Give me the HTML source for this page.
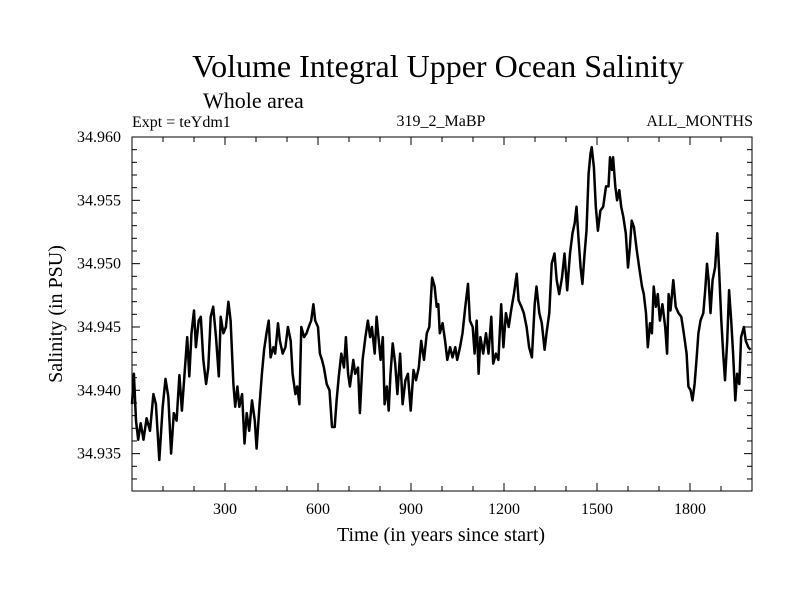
<!DOCTYPE html>
<html><head><meta charset="utf-8"><style>
html,body{margin:0;padding:0;background:#fff;}
svg{display:block;font-family:"Liberation Serif",serif;}
</style></head><body>
<svg id="chart" width="800" height="600" viewBox="0 0 800 600">
<text x="438" y="77" font-size="32" text-anchor="middle">Volume Integral Upper Ocean Salinity</text>
<text x="203" y="108" font-size="22">Whole area</text>
<text x="132" y="127" font-size="16">Expt = teYdm1</text>
<text x="441" y="126" font-size="16" text-anchor="middle">319_2_MaBP</text>
<text x="753" y="126" font-size="16" text-anchor="end">ALL_MONTHS</text>
<text x="441" y="541" font-size="20" text-anchor="middle">Time (in years since start)</text>
<text transform="translate(62,314) rotate(-90)" font-size="20" text-anchor="middle">Salinity (in PSU)</text>
<g id="axes"></g>
<path id="line" fill="none" stroke="#000" stroke-width="2.5" stroke-linejoin="round"></path>
<rect x="132" y="137" width="620" height="354" fill="none" stroke="#000" stroke-width="1"></rect>
</svg>
<script>
const years = [0,6,13,20,28,37,47,58,69,77,88,99,108,117,126,135,144,153,161,171,178,185,192,200,206,215,222,230,239,246,254,262,271,280,286,295,303,311,318,327,333,340,346,355,363,370,378,387,396,402,411,419,426,434,441,447,456,462,471,477,486,495,503,512,518,527,533,540,546,555,563,570,578,585,591,600,606,613,619,628,637,645,654,660,667,675,684,690,697,703,714,720,729,735,744,753,761,768,774,783,789,796,802,809,815,822,828,834,841,849,856,865,873,882,890,899,908,916,925,933,942,951,959,968,976,983,988,
993,1002,1010,1017,1026,1034,1043,1049,1058,1066,1075,1084,1090,1099,1105,1112,1118,1124,1133,1142,1150,1159,1165,1174,1182,1191,1198,1206,1215,1223,1232,1241,1247,1256,1264,1273,1281,1290,1299,1305,1314,1322,1331,1337,1346,1354,1363,1370,1378,1387,1395,1404,1413,1421,1428,1434,1440,1447,1453,1460,1466,1473,1479,1483,1490,1496,1503,1511,1520,1529,1537,1542,1548,1552,1559,1565,1572,1578,1585,1593,1600,1606,1612,1619,1628,1636,1645,1651,1658,1664,1671,1677,1683,1690,1696,1703,1711,1720,1726,1731,1737,1746,1754,1763,1772,1780,1789,1795,1802,1808,1815,1821,1827,1834,1843,1849,1855,1860,1866,1873,1881,1888,1894,1901,1907,1913,1920,1926,1933,1939,1946,1952,1959,1965,1974,1980,1988,1995];
const salinity = [34.9389,34.9413,34.9376,34.9361,34.9374,34.9361,34.9378,34.9368,34.9397,34.9389,34.9345,34.9387,34.9409,34.9395,34.9350,34.9382,34.9376,34.9412,34.9384,34.9418,34.9442,34.9411,34.9445,34.9463,34.9434,34.9455,34.9458,34.9424,34.9405,34.9418,34.9458,34.9466,34.9442,34.9411,34.9458,34.9445,34.9450,34.9470,34.9455,34.9405,34.9387,34.9403,34.9387,34.9397,34.9358,34.9382,34.9368,34.9392,34.9376,34.9354,34.9387,34.9413,34.9432,34.9445,34.9455,34.9426,34.9434,34.9429,34.9453,34.9439,34.9429,34.9434,34.9450,34.9439,34.9413,34.9397,34.9403,34.9389,34.9450,34.9442,34.9445,34.9450,34.9455,34.9468,34.9455,34.9450,34.9429,34.9424,34.9418,34.9405,34.9400,34.9371,34.9371,34.9392,34.9411,34.9429,34.9418,34.9442,34.9413,34.9403,34.9424,34.9413,34.9418,34.9382,34.9424,34.9442,34.9455,34.9442,34.9450,34.9429,34.9458,34.9439,34.9424,34.9442,34.9389,34.9403,34.9384,34.9413,34.9437,34.9421,34.9397,34.9429,34.9389,34.9408,34.9413,34.9384,34.9416,34.9408,34.9418,34.9439,34.9424,34.9445,34.9450,34.9489,34.9482,34.9466,34.9468,
34.9445,34.9453,34.9439,34.9424,34.9434,34.9426,34.9434,34.9424,34.9434,34.9445,34.9466,34.9484,34.9455,34.9450,34.9429,34.9455,34.9413,34.9442,34.9429,34.9445,34.9429,34.9458,34.9421,34.9429,34.9424,34.9468,34.9434,34.9461,34.9450,34.9463,34.9476,34.9492,34.9471,34.9466,34.9461,34.9450,34.9434,34.9426,34.9468,34.9482,34.9461,34.9453,34.9432,34.9445,34.9461,34.9500,34.9508,34.9487,34.9476,34.9489,34.9508,34.9479,34.9508,34.9524,34.9532,34.9545,34.9521,34.9497,34.9484,34.9508,34.9526,34.9571,34.9587,34.9592,34.9576,34.9545,34.9526,34.9542,34.9545,34.9561,34.9561,34.9584,34.9574,34.9584,34.9561,34.9550,34.9558,34.9545,34.9537,34.9524,34.9497,34.9513,34.9534,34.9529,34.9511,34.9497,34.9482,34.9476,34.9461,34.9434,34.9453,34.9445,34.9482,34.9466,34.9476,34.9455,34.9468,34.9450,34.9429,34.9476,34.9463,34.9487,34.9466,34.9461,34.9458,34.9445,34.9429,34.9403,34.9400,34.9392,34.9405,34.9424,34.9445,34.9455,34.9461,34.9479,34.9500,34.9487,34.9461,34.9487,34.9497,34.9524,34.9495,34.9455,34.9429,34.9408,34.9439,34.9479,34.9455,34.9429,34.9392,34.9413,34.9405,34.9442,34.9450,34.9439,34.9434,34.9432];
const xTickLabels = ["300","600","900","1200","1500","1800"];
const yTickLabels = ["34.935","34.940","34.945","34.950","34.955","34.960"];

const X0=132, X1=752, Y0=491, Y1=137;
const xMin=0, xMax=2000, yMin=34.93205, yMax=34.960;
function sx(v){return X0+(v-xMin)/(xMax-xMin)*(X1-X0);}
function sy(v){return Y0-(v-yMin)/(yMax-yMin)*(Y0-Y1);}
const NS="http://www.w3.org/2000/svg";
const axes=document.getElementById('axes');
function mk(tag,attrs,parent){const e=document.createElementNS(NS,tag);for(const k in attrs)e.setAttribute(k,attrs[k]);(parent||axes).appendChild(e);return e;}

for(let t=100;t<2000;t+=100){
  const major=(t%300===0);
  const len=major?8:5;
  const x=sx(t);
  const a=mk('line',{x1:x,x2:x,y1:Y0,y2:Y0-len,stroke:'#000','stroke-width':1});
  
  
  const b=mk('line',{x1:x,x2:x,y1:Y1,y2:Y1+len,stroke:'#000','stroke-width':1});
  
  
}
xTickLabels.forEach(s=>{
  const t=mk('text',{x:sx(parseFloat(s)),y:514,'font-size':16,'text-anchor':'middle'});
  t.textContent=s;
  
  
});
for(let i=0;i<=28;i++){
  const v=34.932+i*0.001;
  if(v<yMin-1e-9||v>yMax+1e-9)continue;
  const major=Math.abs((v*1000)%5)<1e-6||Math.abs((v*1000)%5-5)<1e-6;
  const len=major?8:5;
  const y=sy(v);
  const a=mk('line',{x1:X0,x2:X0+len,y1:y,y2:y,stroke:'#000','stroke-width':1});
  
  
  const b=mk('line',{x1:X1,x2:X1-len,y1:y,y2:y,stroke:'#000','stroke-width':1});
  
  
}
yTickLabels.forEach(s=>{
  const t=mk('text',{x:121,y:sy(parseFloat(s))+5,'font-size':16,'text-anchor':'end'});
  t.textContent=s;
  
  
});
let d='';
for(let i=0;i<years.length;i++){d+=(i?'L':'M')+sx(years[i]).toFixed(1)+','+sy(salinity[i]).toFixed(1);}
document.getElementById('line').setAttribute('d',d);
</script>
</body></html>
